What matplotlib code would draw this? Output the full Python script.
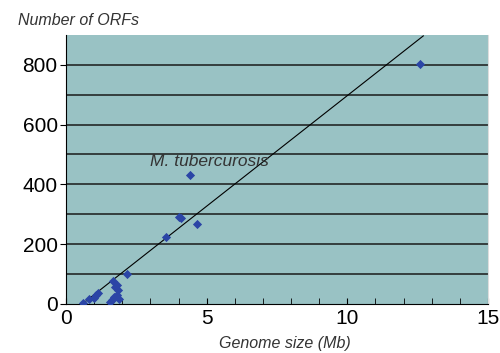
import matplotlib.pyplot as plt
from matplotlib.ticker import MultipleLocator

plt.rcParams['font.family'] = ['Liberation Sans', 'DejaVu Sans']

# genome size (Mb) vs number of ORFs
genome_mb = [0.62, 0.82, 1.0, 1.07, 1.14, 1.55, 1.62, 1.72, 1.67, 1.83, 1.85, 1.80, 1.90, 1.75, 2.18, 3.55, 4.02, 4.10, 4.64, 4.41, 12.58]
n_orfs = [3, 15, 20, 30, 35, 5, 12, 22, 77, 63, 45, 30, 15, 58, 100, 223, 290, 287, 268, 430, 803]

# regression line endpoints (x only); slope
fit_x = [0.58, 12.7]
fit_slope = 74.0

fig = plt.figure(figsize=(5.0, 3.53), dpi=100)
ax = fig.add_axes([0.132, 0.139, 0.844, 0.762])
ax.set_facecolor('#99c2c4')

ax.set_xlim(0, 15)
ax.set_ylim(0, 900)

for y in range(100, 900, 100):
    ax.axhline(y, color='#1a1a1a', lw=1.1, zorder=1)

ax.plot(fit_x, [fit_slope * (x - fit_x[0]) for x in fit_x], color='black', lw=0.8, zorder=2)
ax.scatter(genome_mb, n_orfs, marker='D', s=22, color='#2b45a6', zorder=3, linewidths=0)

ax.text(3.0, 460, 'M. tubercurosis', fontsize=12.5, style='italic', color='#333333')

ax.xaxis.set_major_locator(MultipleLocator(5))
ax.xaxis.set_minor_locator(MultipleLocator(1))
ax.yaxis.set_major_locator(MultipleLocator(200))
ax.tick_params(axis='x', which='both', direction='in', length=4, labelsize=15, pad=4)
ax.tick_params(axis='y', which='major', length=4, labelsize=15, pad=2)

ax.spines['top'].set_visible(False)
for s in ['left', 'bottom']:
    ax.spines[s].set_color('black')
ax.spines['right'].set_color('#dddddd')

fig.text(0.035, 0.93, 'Number of ORFs', fontsize=11.5, style='italic', color='#333333')
fig.text(0.57, 0.015, 'Genome size (Mb)', fontsize=11.5, style='italic', color='#333333', ha='center')

fig.savefig('out.png', dpi=100)
